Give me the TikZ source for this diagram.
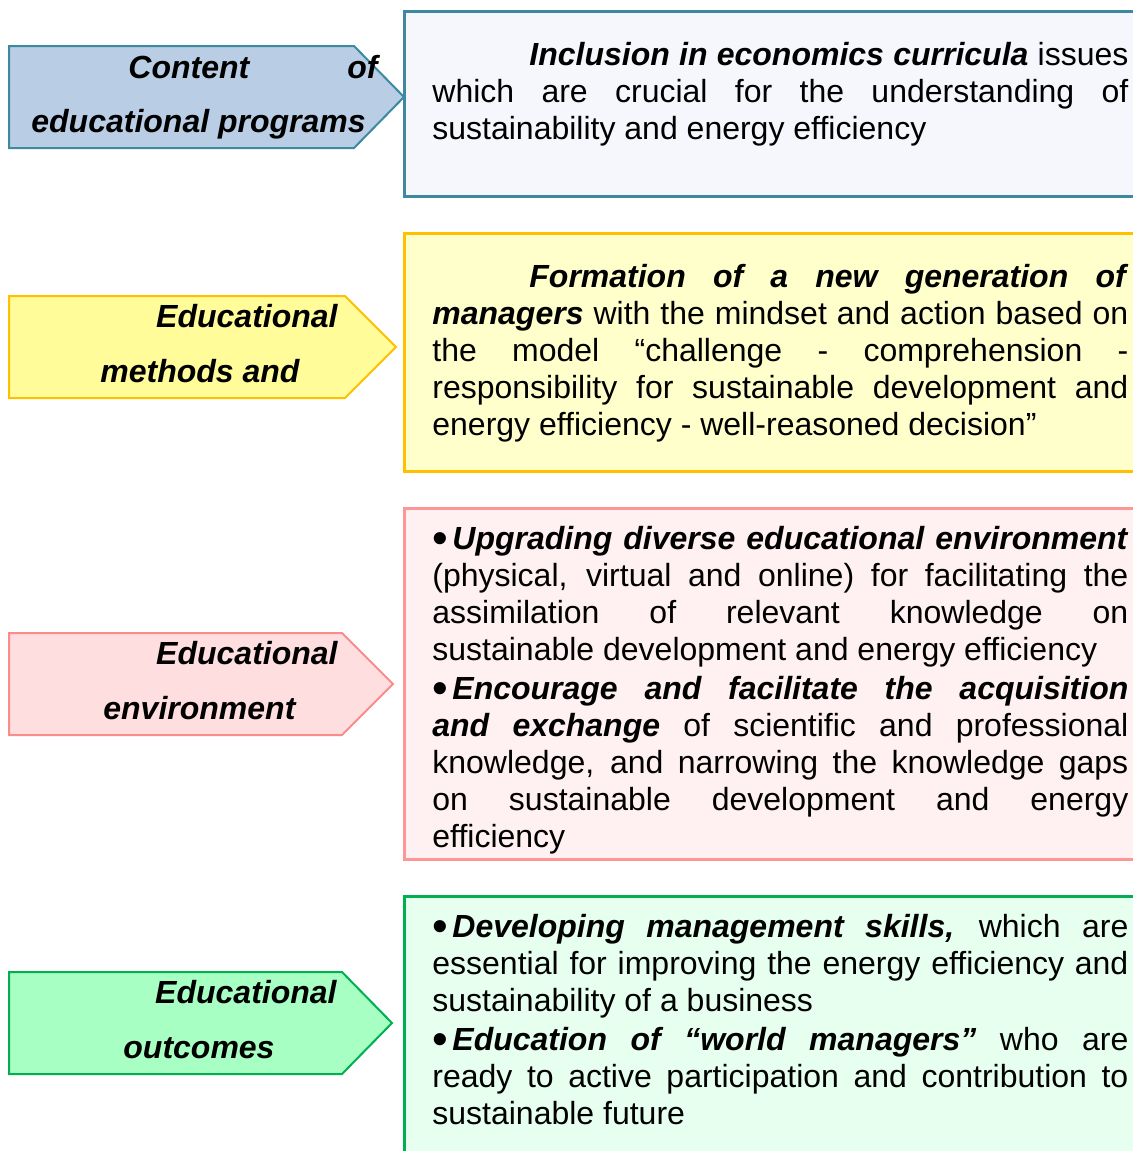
\documentclass[tikz,border=0pt]{standalone}
\usepackage{fontspec}
\setmainfont{Liberation Sans}
\definecolor{bline}{RGB}{60,137,160}
\definecolor{bfillA}{RGB}{185,205,229}
\definecolor{bfillB}{RGB}{245,247,252}
\definecolor{yline}{RGB}{255,192,0}
\definecolor{yfillA}{RGB}{255,252,153}
\definecolor{yfillB}{RGB}{255,255,204}
\definecolor{plineA}{RGB}{250,140,140}
\definecolor{plineB}{RGB}{255,150,150}
\definecolor{pfillA}{RGB}{255,222,224}
\definecolor{pfillB}{RGB}{255,240,241}
\definecolor{gline}{RGB}{0,176,80}
\definecolor{gfillA}{RGB}{168,255,195}
\definecolor{gfillB}{RGB}{230,255,238}
\newcommand{\mybul}{\makebox[10pt][l]{\raisebox{-2pt}{\scalebox{1.4}{•}}}}
\newcommand{\boxsetup}{\tolerance=10000\relax\hbadness=10000\relax\hyphenpenalty=10000\relax}
\begin{document}
\begin{tikzpicture}[x=0.5pt,y=-0.5pt,
  arrowshape/.style={line width=1pt,line join=miter},
  boxshape/.style={line width=1.5pt},
  boxtext/.style={anchor=north west,inner sep=0pt,text width=348pt,align=justify,
    font=\fontsize{16pt}{18.5pt}\selectfont},
  lbl/.style={inner sep=0pt,font=\fontsize{16pt}{18.5pt}\selectfont\bfseries\itshape}]
\useasboundingbox (0,0) rectangle (1132,1151);
\fill[white] (0,0) rectangle (1132,1151);
% right boxes
\draw[boxshape,draw=bline,fill=bfillB] (404,11) rectangle (1145,196);
\draw[boxshape,draw=yline,fill=yfillB] (404,233) rectangle (1145,471);
\draw[boxshape,draw=plineB,fill=pfillB] (404,508) rectangle (1145,859);
\draw[boxshape,draw=gline,fill=gfillB] (404,896) rectangle (1145,1165);
% arrows
\draw[arrowshape,draw=bline,fill=bfillA] (9,46) -- (354,46) -- (404,97) -- (354,148) -- (9,148) -- cycle;
\draw[arrowshape,draw=yline,fill=yfillA] (9,296) -- (345,296) -- (396,347) -- (345,398) -- (9,398) -- cycle;
\draw[arrowshape,draw=plineA,fill=pfillA] (9,633) -- (342,633) -- (393,684) -- (342,735) -- (9,735) -- cycle;
\draw[arrowshape,draw=gline,fill=gfillA] (9,972) -- (342,972) -- (392,1023) -- (342,1074) -- (9,1074) -- cycle;
% arrow labels
\node[lbl,anchor=base west] (a1a) at (128,78) {Content};
\node[lbl,anchor=base east] (a1b) at (378,78) {of};
\node[lbl,anchor=base west] (a1c) at (31,132) {educational programs};
\node[lbl,anchor=base east] (a2a) at (338,327) {Educational};
\node[lbl,anchor=base west] (a2b) at (100,382) {methods and};
\node[lbl,anchor=base east] (a3a) at (338,664) {Educational};
\node[lbl,anchor=base west] (a3b) at (103,719) {environment};
\node[lbl,anchor=base east] (a4a) at (337,1003) {Educational};
\node[lbl,anchor=base west] (a4b) at (123,1058) {outcomes};
% box texts
\node[boxtext] (t1) at (432,39) {\boxsetup\strut\hspace*{48.5pt}\textbf{\textit{Inclusion in economics curricula}} issues\linebreak
which are crucial for the understanding of\linebreak
sustainability and energy efficiency};
\node[boxtext] (t2) at (432,261) {\boxsetup\strut\hspace*{48.5pt}\textbf{\textit{Formation of a new generation of}}\linebreak
\textbf{\textit{managers}} with the mindset and action based on\linebreak
the model “challenge - comprehension -\linebreak
responsibility for sustainable development and\linebreak
energy efficiency - well-reasoned decision”};
\node[boxtext] (t3) at (432,523) {\boxsetup\strut\mybul\textbf{\textit{Upgrading diverse educational environment}}\linebreak
(physical, virtual and online) for facilitating the\linebreak
assimilation of relevant knowledge on\linebreak
sustainable development and energy efficiency\par\vspace{1pt}
\strut\mybul\textbf{\textit{Encourage and facilitate the acquisition}}\linebreak
\textbf{\textit{and exchange}} of scientific and professional\linebreak
knowledge, and narrowing the knowledge gaps\linebreak
on sustainable development and energy\linebreak
efficiency};
\node[boxtext] (t4) at (432,911) {\boxsetup\strut\mybul\textbf{\textit{Developing management skills,}} which are\linebreak
essential for improving the energy efficiency and\linebreak
sustainability of a business\par\vspace{1pt}
\strut\mybul\textbf{\textit{Education of “world managers”}} who are\linebreak
ready to active participation and contribution to\linebreak
sustainable future};
\end{tikzpicture}
\end{document}
